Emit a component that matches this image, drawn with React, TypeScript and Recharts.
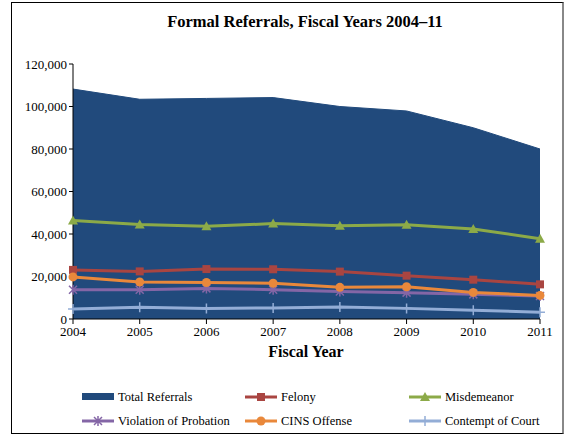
import React from "react";
import { ComposedChart, Area, Line, XAxis, YAxis } from "recharts";

const years = ["2004", "2005", "2006", "2007", "2008", "2009", "2010", "2011"];
const totalReferrals = [108200, 103400, 103800, 104200, 100000, 97900, 90000, 80000];
const felony = [23100, 22400, 23500, 23400, 22300, 20400, 18500, 16300];
const misdemeanor = [46400, 44500, 43600, 44900, 43900, 44400, 42400, 37800];
const violation = [13800, 13800, 14400, 13800, 12900, 12400, 11600, 10800];
const cins = [19800, 17400, 17200, 16800, 14900, 15200, 12500, 11100];
const contempt = [4700, 5500, 5000, 5200, 5600, 5000, 4100, 3200];
const yTicks = [0, 20000, 40000, 60000, 80000, 100000, 120000];

const data = years.map((year, i) => ({
  year,
  total: totalReferrals[i],
  felony: felony[i],
  misdemeanor: misdemeanor[i],
  violation: violation[i],
  cins: cins[i],
  contempt: contempt[i]
}));

const FONT = '"Liberation Serif", "Times New Roman", serif';

type Shape = "square" | "triangle" | "star" | "circle" | "plus" | "none";

function marker(shape: Shape, color: string, cx: number, cy: number, key?: string) {
  switch (shape) {
    case "square":
      return <rect key={key} x={cx - 4} y={cy - 4} width={8} height={8} fill={color} />;
    case "triangle":
      return <path key={key} d={`M${cx},${cy - 5} L${cx + 5},${cy + 4} L${cx - 5},${cy + 4} Z`} fill={color} />;
    case "circle":
      return <circle key={key} cx={cx} cy={cy} r={4.5} fill={color} />;
    case "star":
      return (
        <path
          key={key}
          d={`M${cx - 4},${cy - 4} L${cx + 4},${cy + 4} M${cx - 4},${cy + 4} L${cx + 4},${cy - 4} M${cx},${cy - 5} L${cx},${cy + 5}`}
          stroke={color}
          strokeWidth={1.5}
          fill="none"
        />
      );
    case "plus":
      return (
        <path
          key={key}
          d={`M${cx - 5},${cy} L${cx + 5},${cy} M${cx},${cy - 5} L${cx},${cy + 5}`}
          stroke={color}
          strokeWidth={1.5}
          fill="none"
        />
      );
    default:
      return null;
  }
}

const makeDot = (shape: Shape, color: string) => (props: any) =>
  marker(shape, color, props.cx, props.cy, `${shape}-${props.index}`);

const series = [
  { key: "felony", name: "Felony", color: "#A94541", shape: "square" as Shape },
  { key: "misdemeanor", name: "Misdemeanor", color: "#8CAA48", shape: "triangle" as Shape },
  { key: "violation", name: "Violation of Probation", color: "#8466A6", shape: "star" as Shape },
  { key: "cins", name: "CINS Offense", color: "#E9883B", shape: "circle" as Shape },
  { key: "contempt", name: "Contempt of Court", color: "#93ADD6", shape: "plus" as Shape }
];

const legendItems = [
  { name: "Total Referrals", color: "#214A7C", shape: "none" as Shape, area: true },
  { name: "Felony", color: "#A94541", shape: "square" as Shape },
  { name: "Misdemeanor", color: "#8CAA48", shape: "triangle" as Shape },
  { name: "Violation of Probation", color: "#8466A6", shape: "star" as Shape },
  { name: "CINS Offense", color: "#E9883B", shape: "circle" as Shape },
  { name: "Contempt of Court", color: "#93ADD6", shape: "plus" as Shape }
];
const legendCols = [82, 245, 409];
const legendRows = [397, 421];

export default function App() {
  return (
    <div style={{ position: "absolute", left: 0, top: 0, width: 570, height: 439, background: "#fff", fontFamily: FONT }}>
      <div
        style={{
          position: "absolute",
          left: 11,
          top: 2,
          width: 550,
          height: 430,
          borderLeft: "1.5px solid #000",
          borderTop: "1.5px solid #000",
          borderBottom: "1.5px solid #000",
          borderRight: "2px solid #888"
        }}
      />
      <div style={{ position: "absolute", left: 0, width: 610, top: 12, textAlign: "center", fontWeight: "bold", fontSize: 16.5 }}>
        Formal Referrals, Fiscal Years 2004–11
      </div>
      <div style={{ position: "absolute", left: 0, top: 0 }}>
        <ComposedChart width={570} height={345} data={data} margin={{ top: 64, right: 30, bottom: 0, left: 11 }}>
          <XAxis
            dataKey="year"
            scale="point"
            stroke="#000"
            tickSize={5}
            tickMargin={3}
            height={26}
            tick={{ fill: "#000", fontSize: 13, fontFamily: FONT }}
          />
          <YAxis
            domain={[0, 120000]}
            ticks={yTicks}
            width={62}
            stroke="#000"
            tickSize={4}
            tickFormatter={(v: number) => v.toLocaleString("en-US")}
            tick={{ fill: "#000", fontSize: 13, fontFamily: FONT }}
          />
          <Area dataKey="total" name="Total Referrals" type="linear" fill="#214A7C" fillOpacity={1} stroke="#214A7C" isAnimationActive={false} />
          {series.map((s) => (
            <Line
              key={s.key}
              dataKey={s.key}
              name={s.name}
              type="linear"
              stroke={s.color}
              strokeWidth={3}
              dot={makeDot(s.shape, s.color)}
              activeDot={false}
              isAnimationActive={false}
            />
          ))}
        </ComposedChart>
      </div>
      <div style={{ position: "absolute", left: 0, width: 612, top: 343, textAlign: "center", fontWeight: "bold", fontSize: 16 }}>
        Fiscal Year
      </div>
      {legendItems.map((item, i) => {
        const x = legendCols[i % 3];
        const y = legendRows[Math.floor(i / 3)];
        return (
          <div key={item.name} style={{ position: "absolute", left: x, top: y - 8, height: 16, display: "flex", alignItems: "center", fontSize: 12.5 }}>
            <svg width={34} height={16} style={{ marginRight: 2 }}>
              {item.area ? (
                <rect x={0} y={4} width={32} height={7} fill={item.color} />
              ) : (
                <>
                  <line x1={0} y1={8} x2={32} y2={8} stroke={item.color} strokeWidth={3} />
                  {marker(item.shape, item.color, 16, 8)}
                </>
              )}
            </svg>
            <span>{item.name}</span>
          </div>
        );
      })}
    </div>
  );
}
